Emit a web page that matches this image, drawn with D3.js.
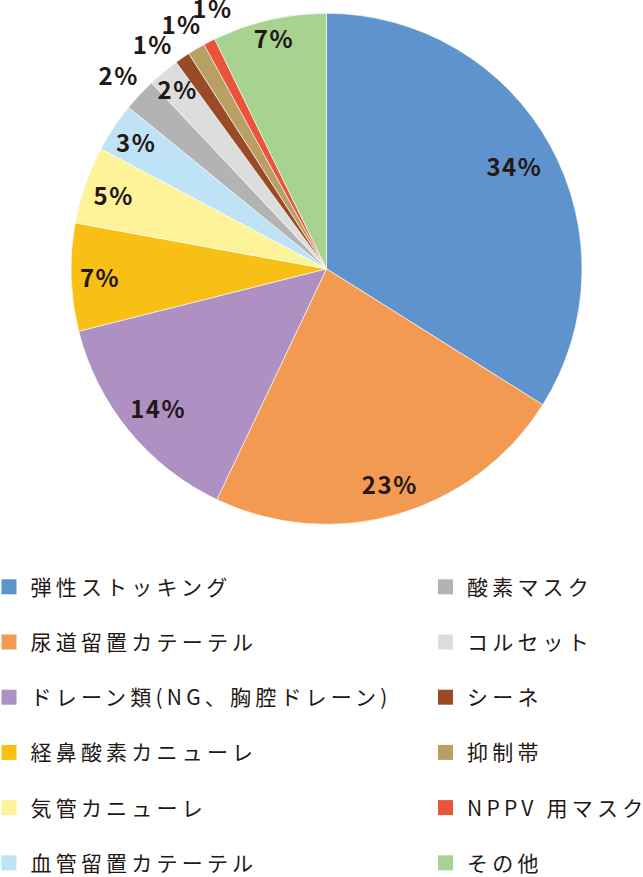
<!DOCTYPE html>
<html><head><meta charset="utf-8">
<script src="https://cdn.jsdelivr.net/npm/d3@7"></script>
<style>
html,body{margin:0;padding:0;background:#fff;}
svg{display:block;}
</style></head>
<body>
<svg id="chart" width="643" height="877"></svg>
<script>
// ---- data ----
const categories = ["弾性ストッキング","尿道留置カテーテル","ドレーン類(NG、胸腔ドレーン)","経鼻酸素カニューレ","気管カニューレ","血管留置カテーテル","酸素マスク","コルセット","シーネ","抑制帯","NPPV 用マスク","その他"];
const values = [33.9, 23.1, 14.0, 6.8, 4.9, 3.1, 2.1, 2.0, 0.95, 1.1, 0.75, 7.2];
const percentLabels = ["34%","23%","14%","7%","5%","3%","2%","2%","1%","1%","1%","7%"];

// ---- styles ----
const colors = ["#5E93CD","#F29A51","#AE90C3","#F8BF15","#FFF39A","#BEE3F7","#B3B3B3","#DCDDDD","#9A4A25","#B8A064","#E9553A","#A7D28F"];
const outsideLabels = new Set(["酸素マスク","シーネ","抑制帯","NPPV 用マスク"]);
const textColor = "#231815";
const cx = 326.5, cy = 268.8, R = 255.5;

const svg = d3.select("#chart");
const total = d3.sum(values);
const pie = d3.pie().sort(null).value(d => d.v).startAngle(0).endAngle(2*Math.PI);
const data = categories.map((c,i)=>({c, v: values[i], lab: percentLabels[i], col: colors[i]}));
const arcs = pie(data);
const arc = d3.arc().innerRadius(0).outerRadius(R);

const g = svg.append("g").attr("transform", `translate(${cx},${cy})`);
g.selectAll("path.slice").data(arcs).join("path")
  .attr("class","slice")
  .attr("d", arc)
  .attr("fill", d => d.data.col)
  .attr("stroke", "#fff")
  .attr("stroke-width", 0.6);

const labelFont = 24, labelSpacing = 1.5;
function styleLabel(sel){
  sel.attr("font-family","'Noto Sans CJK JP','Noto Sans',sans-serif")
     .attr("font-size", labelFont)
     .attr("font-weight", 700)
     .attr("letter-spacing", labelSpacing)
     .attr("fill", textColor)
     .attr("text-anchor","middle")
     .attr("dominant-baseline","central");
}

// inside labels
const inside = arcs.filter(d => !outsideLabels.has(d.data.c));
inside.forEach(d => {
  const t = g.append("text").text(d.data.lab).call(styleLabel);
  const w = t.node().getComputedTextLength();
  const h = 20;
  const a = (d.startAngle + d.endAngle)/2;
  const sx = Math.sin(a), sy = -Math.cos(a);
  const tt = Math.min((w/2)/Math.max(Math.abs(sx),1e-6), (h/2)/Math.max(Math.abs(sy),1e-6));
  const share = d.data.v/total;
  const pad = share >= 0.10 ? 21 : 8;
  const r = R - tt - pad;
  t.attr("x", r*sx + labelSpacing/2).attr("y", r*sy);
});

// outside labels with simple angular relaxation
const outside = arcs.filter(d => outsideLabels.has(d.data.c))
  .map(d => ({d, a: (d.startAngle + d.endAngle)/2}))
  .sort((p,q)=>p.a-q.a);
const minSep = 7*Math.PI/180;
for (let it=0; it<100; it++){
  for (let i=1;i<outside.length;i++){
    const diff = outside[i].a - outside[i-1].a;
    if (diff < minSep){
      const push = (minSep - diff)/2;
      outside[i].a += push; outside[i-1].a -= push;
    }
  }
}
const rOut = 285;
outside.forEach(o => {
  g.append("text").text(o.d.data.lab).call(styleLabel)
    .attr("x", rOut*Math.sin(o.a) + labelSpacing/2)
    .attr("y", -rOut*Math.cos(o.a));
});

// ---- legend ----
const legendFont = 21, legendSpacing = 4.2;
const rowY0 = 586.8, rowStep = 55.2, sq = 15;
const colX = [1.5, 438];
const rowsPerCol = 6;
const leg = svg.append("g");
data.forEach((d,i) => {
  const col = Math.floor(i/rowsPerCol), row = i % rowsPerCol;
  const y = rowY0 + row*rowStep;
  const x = colX[col];
  leg.append("rect").attr("x", x).attr("y", y - sq/2).attr("width", sq).attr("height", sq).attr("fill", d.col);
  leg.append("text").text(d.c)
    .attr("x", x + 29).attr("y", y - 1)
    .attr("font-family","'Noto Sans CJK JP','Noto Sans',sans-serif")
    .attr("font-size", legendFont)
    .attr("letter-spacing", legendSpacing)
    .attr("fill", textColor)
    .attr("dominant-baseline","central");
});
</script>
</body></html>
